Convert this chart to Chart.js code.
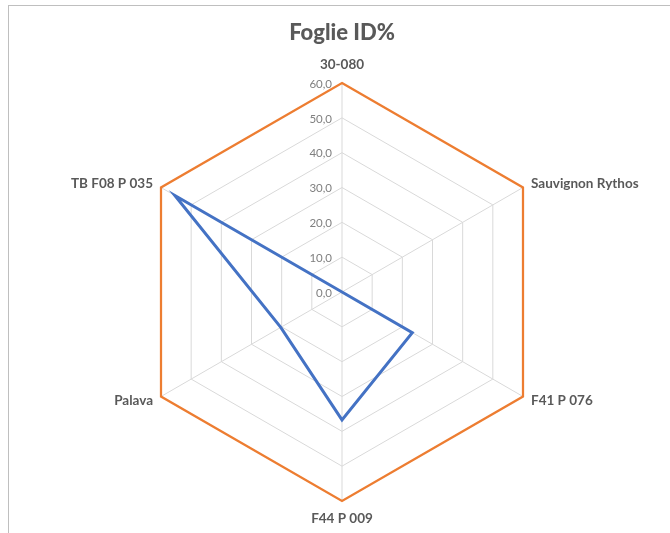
<!DOCTYPE html>
<html>
<head>
<meta charset="utf-8">
<title>Foglie ID%</title>
<script src="https://cdn.jsdelivr.net/npm/chart.js@4.4.0/dist/chart.umd.min.js"></script>
<style>
  body { margin: 0; background: #fff; }
  #wrap { position: relative; width: 670px; height: 533px; overflow: hidden; }
  #frame { position: absolute; left: 8px; top: 5px; width: 700px; height: 600px;
           border-left: 1px solid #bfbfbf; border-top: 1px solid #bfbfbf; }
  #myChart { position: absolute; left: 0; top: 0; }
</style>
</head>
<body>
<div id="wrap">
  <div id="frame"></div>
  <canvas id="myChart" width="670" height="533"></canvas>
</div>
<script>
// dati
let categories = ['30-080', 'Sauvignon Rythos', 'F41 P 076', 'F44 P 009', 'Palava', 'TB F08 P 035'];
let valoriID = [0, 0, 23.3, 36.7, 20.3, 55.4];
let valoriMax = [60, 60, 60, 60, 60, 60];
let tickValues = [0, 10, 20, 30, 40, 50, 60];

function formatTick(v){
  return v.toFixed(1).replace('.', ',');
}

// etichette dei tick a sinistra dell'asse verticale (stile Excel)
const tickLabelsPlugin = {
  id: 'tickLabels',
  beforeDatasetsDraw(chart){
    let scale = chart.scales.r;
    let ctx = chart.ctx;
    ctx.save();
    ctx.font = '11.5px Lato';
    ctx.fillStyle = '#7f7f7f';
    ctx.textAlign = 'right';
    ctx.textBaseline = 'middle';
    for(let i = 0; i < tickValues.length; i++)
    {
      let d = scale.getDistanceFromCenterForValue(tickValues[i]);
      ctx.fillText(formatTick(tickValues[i]), scale.xCenter - 10, scale.yCenter - d + 1);
    }
    ctx.restore();
  }
};

// nomi delle categorie accanto ai vertici
const pointLabelsPlugin = {
  id: 'pointNames',
  afterDraw(chart){
    let scale = chart.scales.r;
    let ctx = chart.ctx;
    ctx.save();
    ctx.font = 'bold 13.5px Lato';
    ctx.fillStyle = '#595959';
    ctx.textBaseline = 'middle';
    for(let i = 0; i < categories.length; i++)
    {
      let p = scale.getPointPosition(i, scale.drawingArea);
      let deg = Math.round(scale.getIndexAngle(i) * 180 / Math.PI) % 360;
      let x = p.x, y = p.y;
      if(deg == 0){
        ctx.textAlign = 'center'; y -= 18;
      } else if(deg == 180){
        ctx.textAlign = 'center'; y += 18;
      } else if(deg < 180){
        ctx.textAlign = 'left'; x += 8; y += (deg < 90 ? -4 : 4);
      } else {
        ctx.textAlign = 'right'; x -= 8; y += (deg > 270 ? -4 : 4);
      }
      ctx.fillText(categories[i], x, y);
    }
    ctx.restore();
  }
};

const ctx = document.getElementById('myChart').getContext('2d');
let myChart = new Chart(ctx, {
  type: 'radar',
  data: {
    labels: categories,
    datasets: [{
      label: 'ID%',
      data: valoriID,
      borderColor: '#4472c4',
      borderWidth: 3,
      fill: false,
      pointRadius: 0,
      tension: 0
    }, {
      label: 'Max',
      data: valoriMax,
      borderColor: '#ed7d31',
      borderWidth: 2.25,
      fill: false,
      pointRadius: 0,
      tension: 0
    }]
  },
  options: {
    responsive: false,
    animation: false,
    layout: {
      padding: { left: 133, right: 119, top: 9, bottom: 32 }
    },
    plugins: {
      legend: { display: false },
      tooltip: { enabled: false },
      title: {
        display: true,
        text: 'Foglie ID%',
        color: '#595959',
        font: { family: 'Lato', size: 22, weight: '900', lineHeight: 1.2 },
        padding: { top: 11, bottom: 36.6 }
      }
    },
    scales: {
      r: {
        min: 0,
        max: 60,
        ticks: { stepSize: 10, display: false },
        pointLabels: { display: false },
        grid: { color: '#d9d9d9', lineWidth: 1 },
        angleLines: { color: '#d9d9d9', lineWidth: 1 }
      }
    }
  },
  plugins: [tickLabelsPlugin, pointLabelsPlugin]
});
</script>
</body>
</html>
